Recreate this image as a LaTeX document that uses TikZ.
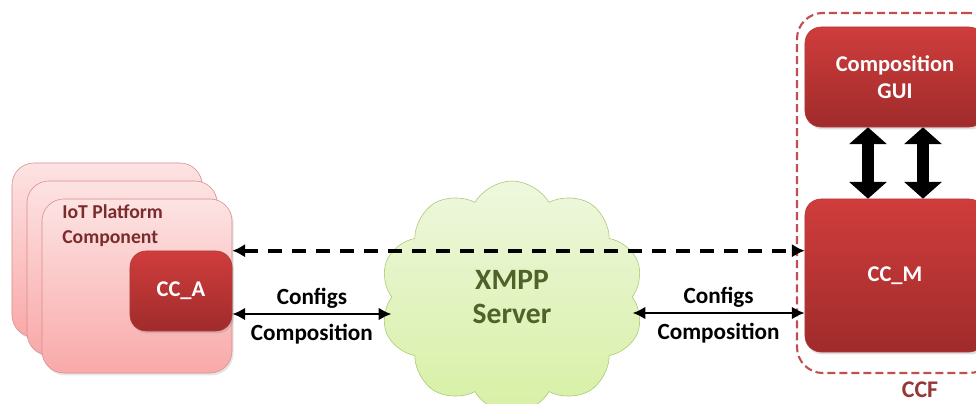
\documentclass[tikz,border=0pt]{standalone}
\usepackage{fontspec}
\setmainfont{Carlito}
\usetikzlibrary{shapes.symbols, arrows.meta, shadows}
\definecolor{cardtop}{HTML}{FDE3E3}
\definecolor{cardbottom}{HTML}{F9A9A9}
\definecolor{cardline}{HTML}{D98C8C}
\definecolor{boxtop}{HTML}{CF3D3C}
\definecolor{boxbottom}{HTML}{A02B2B}
\definecolor{boxline}{HTML}{B43A3A}
\definecolor{cloudtop}{HTML}{EEF7DE}
\definecolor{cloudbottom}{HTML}{D7F0A4}
\definecolor{cloudline}{HTML}{A8C86E}
\definecolor{iottext}{HTML}{7A2C2C}
\definecolor{xmpptext}{HTML}{4F6228}
\definecolor{ccfline}{HTML}{C0504D}
\definecolor{ccftext}{HTML}{953735}

\begin{document}
\begin{tikzpicture} [x = 0.025cm, y = -0.025cm,
  card/.style = {draw = cardline, rounded corners = 0.55cm, top color = cardtop, bottom color = cardbottom, minimum width = 4.75cm, minimum height = 4.35cm, drop shadow = {opacity = 0.2, shadow xshift = 0.04cm, shadow yshift = -0.06cm}},
  redbox/.style = {draw = boxline, rounded corners = 0.4cm, top color = boxtop, bottom color = boxbottom, text = white, align = center, font = \bfseries\fontsize{16}{19}\selectfont, drop shadow = {opacity = 0.25, shadow xshift = 0.04cm, shadow yshift = -0.06cm}},
  label/.style = {font = \bfseries\fontsize{16.5}{19}\selectfont, inner sep = 0.1cm},
  link/.style = {line width = 2pt, {Latex[length = 0.32cm, width = 0.32cm]}-{Latex[length = 0.32cm, width = 0.32cm]}},
  dlink/.style = {line width = 3pt, dash pattern = on 0.35cm off 0.25cm, {Latex[length = 0.32cm, width = 0.34cm]}-{Latex[length = 0.32cm, width = 0.34cm]}},
  fatlink/.style = {line width = 0.3cm, {Triangle[length = 0.42cm, width = 0.92cm]}-{Triangle[length = 0.42cm, width = 0.92cm]}}
]
\clip (0, 0) rectangle (976, 403);
\node[card] (back) at (107, 250){};
\node[card] (middle) at (122, 268){};
\node[card] (front) at (137, 286){};
\node[anchor = north west, align = left, text = iottext, font = \bfseries\fontsize{14}{17.8}\selectfont, inner sep = 0pt] (iot) at (62, 204){IoT Platform\\Component};
\node[redbox, minimum width = 2.55cm, minimum height = 2.0cm] (cca) at (181, 291){CC\_A};
\node[cloud, cloud puffs = 10, cloud puff arc = 120, draw = cloudline, top color = cloudtop, bottom color = cloudbottom, minimum width = 6.6cm, minimum height = 5.8cm, align = center, text = xmpptext, font = \bfseries\fontsize{21}{24}\selectfont] (xmpp) at (512, 297){XMPP\\Server};
\node[draw = ccfline, line width = 1.5pt, dash pattern = on 0.2cm off 0.1cm, rounded corners = 0.65cm, minimum width = 4.95cm, minimum height = 9.0cm] (ccf) at (896, 193){};
\node[text = ccftext, font = \bfseries\fontsize{17}{20}\selectfont, inner sep = 0pt] (ccflabel) at (920, 390){CCF};
\node[redbox, minimum width = 4.5cm, minimum height = 2.5cm] (gui) at (895, 77){Composition\\GUI};
\node[redbox, minimum width = 4.5cm, minimum height = 3.825cm] (ccm) at (895, 275.5){CC\_M};
\draw[dlink] (cca.north east) -- (cca.north east -| ccm.west);
\draw[link] ([yshift = -0.575cm]cca.east) -- ([yshift = -0.575cm]cca.east -| xmpp.west) node[midway, above, label]{Configs} node[midway, below, label, yshift = -0.12cm]{Composition};
\draw[link] ([yshift = -0.4cm]xmpp.east) -- ([yshift = -0.4cm]xmpp.east -| ccm.west) node[midway, above, label]{Configs} node[midway, below, label, yshift = -0.12cm]{Composition};
\draw[fatlink] ([xshift = -0.675cm]gui.south) -- ([xshift = -0.675cm]ccm.north);
\draw[fatlink] ([xshift = 0.7cm]gui.south) -- ([xshift = 0.7cm]ccm.north);
\end{tikzpicture}
\end{document}
